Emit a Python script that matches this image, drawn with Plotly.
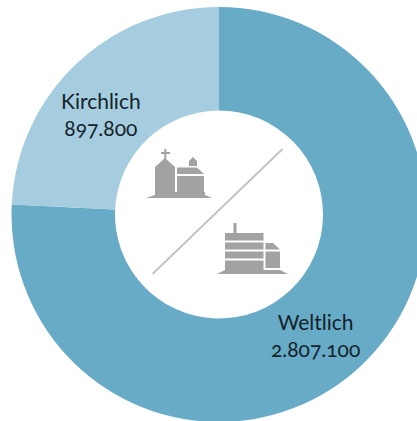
import plotly.graph_objects as go

categories = ["Weltlich", "Kirchlich"]
values = [2807100, 897800]
colors = ["#67abc7", "#a5cddf"]
label_centres = [(315, 334.5), (101, 114.5)]

W, H = 428, 424
CX, CY, R = 219, 214.5, 207.5
ICON = "#a2a2a2"


def fmt(v):
    return f"{v:,}".replace(",", ".")


def px(pts):
    d = "M" + " L".join(f"{x / W:.5f},{1 - y / H:.5f}" for x, y in pts) + " Z"
    return dict(type="path", xref="paper", yref="paper", path=d,
                fillcolor=ICON, line=dict(width=0), layer="above")


def rect(x0, y0, x1, y1):
    return px([(x0, y0), (x1, y0), (x1, y1), (x0, y1)])


shapes = [
    # church
    px([(146, 198), (155, 195), (205, 195), (212, 198)]),
    px([(155, 195), (155, 167), (165, 158), (175, 167), (175, 195)]),
    rect(164.3, 149, 166.3, 159),
    rect(161, 152, 170, 154),
    px([(177, 167.5), (197, 167.5), (204, 174), (177, 174)]),
    rect(177, 176, 204, 192),
    rect(175, 192, 205, 195),
    px([(189, 166), (197, 166), (197, 161), (193, 157), (189, 161)]),
    # secular building
    px([(217, 274), (225, 270), (280, 270), (288, 274)]),
    rect(233.5, 223, 236.5, 233),
    rect(225, 233, 263.5, 240.5),
    rect(225, 242.5, 263.5, 249.5),
    rect(225, 251.5, 263.5, 258.5),
    rect(225, 260.5, 263.5, 271),
    px([(265.5, 243), (273, 243), (280, 249.5), (265.5, 249.5)]),
    rect(265.5, 251.5, 280, 268),
    # divider
    dict(type="line", xref="paper", yref="paper",
         x0=152.5 / W, y0=1 - 274 / H, x1=282.5 / W, y1=1 - 149 / H,
         line=dict(color="#c4c4c4", width=2), layer="above"),
]

annotations = [
    dict(x=x / W, y=1 - y / H, xref="paper", yref="paper", xanchor="center", yanchor="middle",
         text=f"{c}<br>{fmt(v)}", showarrow=False,
         font=dict(family="Lato", size=21, color="#14222a"))
    for c, v, (x, y) in zip(categories, values, label_centres)
]

fig = go.Figure(go.Pie(
    labels=categories, values=values, hole=104 / 207.5, sort=False, direction="clockwise",
    rotation=0, marker=dict(colors=colors, line=dict(width=0)), textinfo="none",
    hoverinfo="label+value", showlegend=False,
    domain=dict(x=[(CX - R) / W, (CX + R) / W], y=[1 - (CY + R) / H, 1 - (CY - R) / H]),
))
fig.update_layout(width=W, height=H, autosize=False, margin=dict(l=0, r=0, t=0, b=0, pad=0),
                  paper_bgcolor="white", shapes=shapes, annotations=annotations)
css = ".annotation text{font-variant-numeric:oldstyle-nums !important;font-feature-settings:'onum' 1 !important;}"
fig.write_html("out.html", post_script=(
    "document.body.style.margin='0';document.documentElement.style.overflow='hidden';"
    "document.body.style.overflow='hidden';"
    "var s=document.createElement('style');s.textContent=\"" + css + "\";document.head.appendChild(s);"),
    config=dict(displayModeBar=False))
